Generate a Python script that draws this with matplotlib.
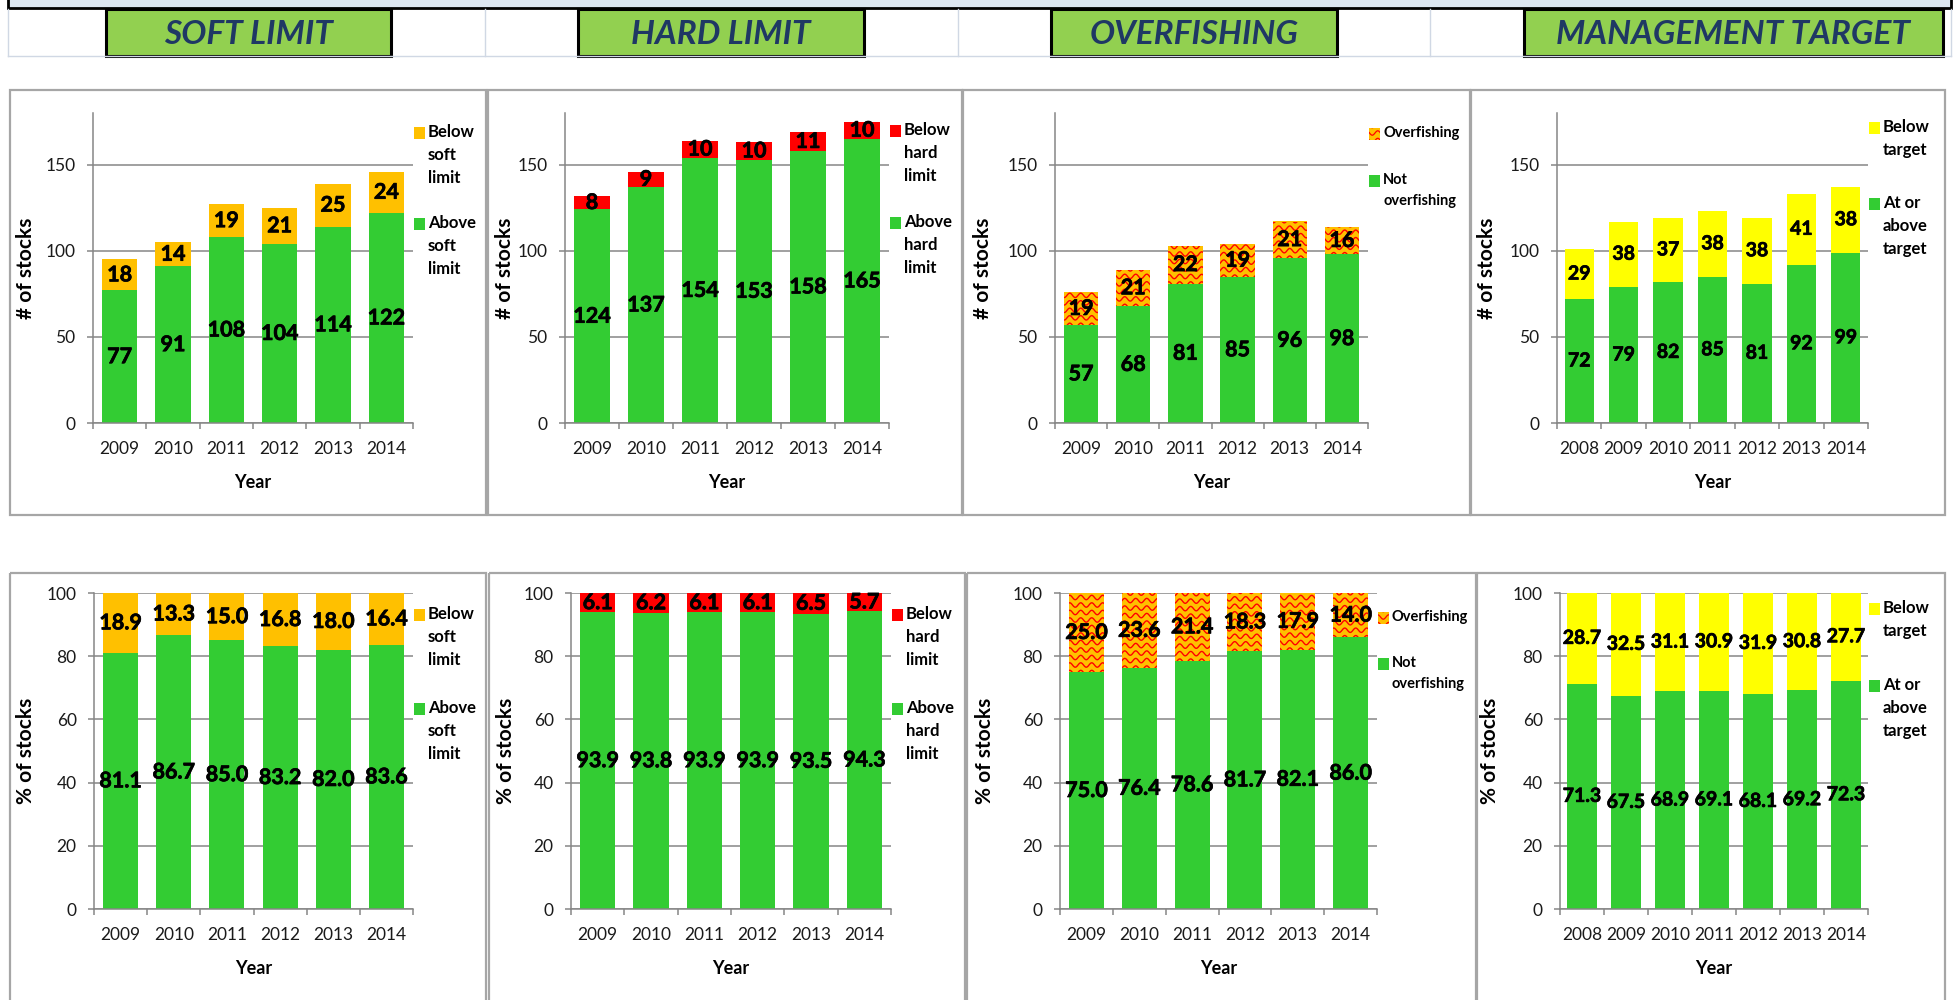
import numpy as np
import matplotlib.pyplot as plt
import matplotlib.patheffects as pe
from matplotlib.patches import Rectangle
from matplotlib.collections import LineCollection
from matplotlib.transforms import Affine2D, IdentityTransform

W, H = 1957, 1000
plt.rcParams['font.family'] = ['Lato', 'DejaVu Sans']

GREEN = '#33cc33'
ORANGE = '#ffc000'
RED = '#ff0000'
YELLOW = '#ffff00'
GRID = '#868686'
BOXEDGE = '#a6a6a6'
HEAD_GREEN = '#92d050'
HEAD_TEXT = '#1f3864'

# ---- data ----
years_6 = ['2009', '2010', '2011', '2012', '2013', '2014']
years_7 = ['2008', '2009', '2010', '2011', '2012', '2013', '2014']

soft_above_n = [77, 91, 108, 104, 114, 122]
soft_below_n = [18, 14, 19, 21, 25, 24]
hard_above_n = [124, 137, 154, 153, 158, 165]
hard_below_n = [8, 9, 10, 10, 11, 10]
not_over_n = [57, 68, 81, 85, 96, 98]
over_n = [19, 21, 22, 19, 21, 16]
at_target_n = [72, 79, 82, 85, 81, 92, 99]
below_target_n = [29, 38, 37, 38, 38, 41, 38]

soft_above_p = [81.1, 86.7, 85.0, 83.2, 82.0, 83.6]
soft_below_p = [18.9, 13.3, 15.0, 16.8, 18.0, 16.4]
hard_above_p = [93.9, 93.8, 93.9, 93.9, 93.5, 94.3]
hard_below_p = [6.1, 6.2, 6.1, 6.1, 6.5, 5.7]
not_over_p = [75.0, 76.4, 78.6, 81.7, 82.1, 86.0]
over_p = [25.0, 23.6, 21.4, 18.3, 17.9, 14.0]
at_target_p = [71.3, 67.5, 68.9, 69.1, 68.1, 69.2, 72.3]
below_target_p = [28.7, 32.5, 31.1, 30.9, 31.9, 30.8, 27.7]

headers = ['SOFT LIMIT', 'HARD LIMIT', 'OVERFISHING', 'MANAGEMENT TARGET']

fig = plt.figure(figsize=(W / 100, H / 100), dpi=100)
# pixel coordinates with origin at top-left
PX = Affine2D().scale(1, -1).translate(0, H)


def px_rect(x0, y0, x1, y1, **kw):
    r = Rectangle((x0, y0), x1 - x0, y1 - y0, transform=PX, **kw)
    fig.add_artist(r)
    return r


def add_waves(parent, patch, bb, lw=1.0):
    """red wavy fill pattern clipped to a patch, bb in display coords"""
    xs = np.arange(bb.x0 - 4, bb.x1 + 4, 0.5)
    segs = []
    for yc in np.arange(bb.y0 - 8, bb.y1 + 8, 7.5):
        segs.append(np.column_stack([xs, yc + 2.2 * np.sin(2 * np.pi * xs / 11.0)]))
    lc = LineCollection(segs, colors=RED, linewidths=lw, transform=IdentityTransform())
    if hasattr(parent, 'add_collection'):
        parent.add_collection(lc, autolim=False)
    else:
        fig.add_artist(lc)
    lc.set_clip_path(patch)


# ---- header strip ----
px_rect(8, -10, 1951, 8, fc='#dce6f1', ec='black', lw=2)
for gx in [8, 485, 958, 1430, 1951]:
    fig.add_artist(plt.Line2D([gx, gx], [9, 56], color='#d0d8e4', lw=1, transform=PX))
fig.add_artist(plt.Line2D([8, 1951], [56, 56], color='#d0d8e4', lw=1, transform=PX))
head_boxes = [(106, 391), (578, 864), (1051, 1337), (1524, 1943)]
for (hx0, hx1), title in zip(head_boxes, headers):
    px_rect(hx0, 9, hx1, 56, fc=HEAD_GREEN, ec='black', lw=2.2)
    fig.text((hx0 + hx1) / 2, 34, title, transform=PX, ha='center', va='center',
             fontsize=24, fontweight='bold', fontstyle='italic', color=HEAD_TEXT)

# ---- chart panels ----
soft_names = (['Below', 'soft', 'limit'], ['Above', 'soft', 'limit'])
hard_names = (['Below', 'hard', 'limit'], ['Above', 'hard', 'limit'])
over_names = (['Overfishing'], ['Not', 'overfishing'])
target_names = (['Below', 'target'], ['At or', 'above', 'target'])

panels = [
    dict(box=(10, 90, 486, 515), ax=(93, 113, 413, 423), ylx=26, cats=years_6, low=soft_above_n,
         up=soft_below_n, col=ORANGE, names=soft_names, legy=(132, 223), pct=False),
    dict(box=(488, 90, 962, 515), ax=(565, 113, 889, 423), ylx=505, cats=years_6, low=hard_above_n,
         up=hard_below_n, col=RED, names=hard_names, legy=(130, 222), pct=False),
    dict(box=(963, 90, 1470, 515), ax=(1055, 113, 1368, 423), ylx=983, cats=years_6, low=not_over_n,
         up=over_n, col='wave', names=over_names, legy=(133, 180), pct=False),
    dict(box=(1471, 90, 1945, 515), ax=(1557, 113, 1868, 423), ylx=1487, cats=years_7, low=at_target_n,
         up=below_target_n, col=YELLOW, names=target_names, legy=(127, 203), pct=False),
    dict(box=(10, 573, 486, 1010), ax=(94, 593, 413, 909), ylx=26, cats=years_6, low=soft_above_p,
         up=soft_below_p, col=ORANGE, names=soft_names, legy=(614, 708), pct=True),
    dict(box=(489, 573, 965, 1010), ax=(571, 593, 891, 909), ylx=506, cats=years_6, low=hard_above_p,
         up=hard_below_p, col=RED, names=hard_names, legy=(614, 708), pct=True),
    dict(box=(967, 573, 1476, 1010), ax=(1060, 593, 1377, 909), ylx=985, cats=years_6, low=not_over_p,
         up=over_p, col='wave', names=over_names, legy=(617, 663), pct=True),
    dict(box=(1477, 573, 1945, 1010), ax=(1560, 593, 1868, 909), ylx=1490, cats=years_7, low=at_target_p,
         up=below_target_p, col=YELLOW, names=target_names, legy=(608, 685), pct=True),
]

heavy = [pe.withStroke(linewidth=0.5, foreground='black')]

for p in panels:
    bx0, by0, bx1, by1 = p['box']
    px_rect(bx0, by0, bx1, by1, fc='none', ec=BOXEDGE, lw=1.6)

    x0, y0, x1, y1 = p['ax']
    ax = fig.add_axes([x0 / W, 1 - y1 / H, (x1 - x0) / W, (y1 - y0) / H])
    n = len(p['cats'])
    x = np.arange(n)
    ax.set_xlim(-0.5, n - 0.5)
    if p['pct']:
        ax.set_ylim(0, 100)
        ax.set_yticks(np.arange(0, 101, 20))
        ax.set_ylabel('% of stocks')
        fmt = '{:.1f}'
    else:
        ax.set_ylim(0, 180)
        ax.set_yticks([0, 50, 100, 150])
        ax.set_ylabel('# of stocks')
        fmt = '{:d}'

    up_color = ORANGE if p['col'] == 'wave' else p['col']
    b_low = ax.bar(x, p['low'], width=0.66, color=GREEN, lw=0)
    b_up = ax.bar(x, p['up'], bottom=p['low'], width=0.66, color=up_color, lw=0)
    if p['col'] == 'wave':
        for bar in b_up:
            add_waves(ax, bar, bar.get_window_extent())

    lab_fs = 15.5 if n < 7 else 14
    for bars, vals in [(b_low, p['low']), (b_up, p['up'])]:
        ax.bar_label(bars, labels=[fmt.format(v) for v in vals], label_type='center',
                     fontsize=lab_fs, fontweight='bold', color='black', path_effects=heavy)

    ax.set_xticks(x)
    ax.set_xticklabels(p['cats'])
    ax.set_xticks(np.arange(-0.5, n), minor=True)
    ax.tick_params(axis='x', which='major', length=0, pad=13, labelsize=12.5, labelcolor='#1a1a1a')
    ax.tick_params(axis='x', which='minor', length=4.5, width=1.1, color=GRID, direction='out')
    ax.tick_params(axis='y', length=4.5, width=1.1, color=GRID, pad=8, labelsize=12.5,
                   labelcolor='#1a1a1a')
    ax.yaxis.grid(True, color=GRID, lw=1.1)
    ax.set_axisbelow(True)
    for s in ['top', 'right']:
        ax.spines[s].set_visible(False)
    for s in ['left', 'bottom']:
        ax.spines[s].set_color(GRID)
        ax.spines[s].set_linewidth(1.1)

    ax.set_xlabel('Year', fontsize=13, fontweight='bold')
    ax.xaxis.set_label_coords(0.5, -60 / (y1 - y0))
    ax.xaxis.label.set_va('center')
    ax.yaxis.label.set_fontsize(15)
    ax.yaxis.label.set_fontweight('bold')
    ax.yaxis.set_label_coords((p['ylx'] - x0) / (x1 - x0), 0.5)
    ax.yaxis.label.set_va('center')
    ax.yaxis.label.set_ha('center')

    # legend, upper series first
    small = p['col'] == 'wave'
    fs = 10.5 if small else 12
    step = 21 if small else 23
    for lines, ly, col in zip(p['names'], p['legy'], [p['col'], GREEN]):
        sq_col = ORANGE if col == 'wave' else col
        sq = px_rect(x1 + 1, ly - 5, x1 + 12, ly + 7, fc=sq_col, lw=0)
        if col == 'wave':
            add_waves(fig, sq, sq.get_window_extent(), lw=0.9)
        for i, t in enumerate(lines):
            fig.text(x1 + 15, ly + i * step, t, transform=PX, ha='left', va='center',
                     fontsize=fs, fontweight='bold', color='black')

fig.savefig('out.png', dpi=100)
